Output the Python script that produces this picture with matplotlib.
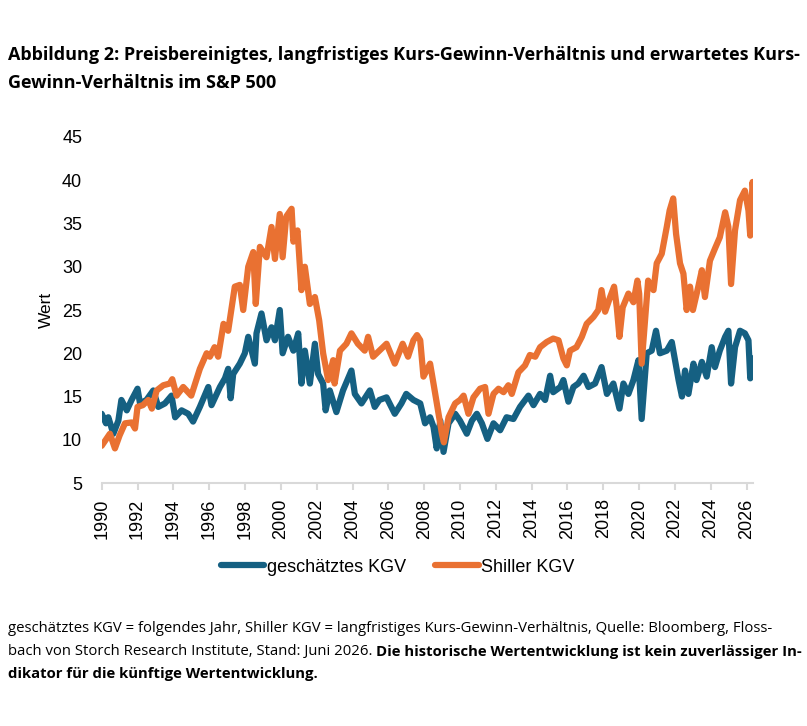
import matplotlib
matplotlib.use('Agg')
import matplotlib.pyplot as plt
from matplotlib import font_manager
import numpy as np

#%% Data (decimal years)
shiller_x = [1990.0, 1990.46, 1990.74, 1991.0, 1991.3, 1991.67, 1991.86, 1992.0, 1992.3, 1992.6,
             1992.8, 1993.07, 1993.44, 1993.8, 1993.94, 1994.18, 1994.55, 1995.0, 1995.48, 1995.86,
             1996.04, 1996.3, 1996.5, 1996.8, 1997.06, 1997.43, 1997.71, 1997.9, 1998.18, 1998.46,
             1998.6, 1998.83, 1999.2, 1999.48, 1999.67, 1999.94, 2000.1, 2000.3, 2000.6, 2000.7,
             2000.93, 2001.15, 2001.34, 2001.62, 2001.9, 2002.14, 2002.36, 2002.64, 2002.92, 2003.0,
             2003.3, 2003.66, 2003.94, 2004.3, 2004.68, 2004.87, 2005.15, 2005.5, 2005.9, 2006.36,
             2006.8, 2007.1, 2007.4, 2007.6, 2007.78, 2007.96, 2008.33, 2008.52, 2008.8, 2008.99,
             2009.1, 2009.36, 2009.73, 2010.0, 2010.2, 2010.47, 2010.75, 2011.12, 2011.4, 2011.59,
             2011.87, 2012.15, 2012.43, 2012.7, 2012.89, 2013.26, 2013.63, 2013.9, 2014.2, 2014.47,
             2014.84, 2015.2, 2015.5, 2015.77, 2015.96, 2016.14, 2016.5, 2016.8, 2017.07, 2017.45,
             2017.72, 2017.9, 2018.1, 2018.38, 2018.6, 2018.75, 2018.9, 2019.08, 2019.4, 2019.68,
             2019.9, 2020.0, 2020.14, 2020.33, 2020.5, 2020.8, 2020.98, 2021.26, 2021.54, 2021.7,
             2021.9, 2022.06, 2022.28, 2022.47, 2022.65, 2022.84, 2023.0, 2023.3, 2023.5, 2023.67,
             2023.95, 2024.23, 2024.5, 2024.8, 2024.98, 2025.13, 2025.35, 2025.63, 2025.9, 2026.1,
             2026.2, 2026.33, 2026.4]
shiller_y = [9.3, 10.7, 9.0, 10.5, 11.9, 12.0, 11.3, 13.8, 14.0, 14.6,
             13.6, 15.7, 16.3, 16.5, 17.0, 15.1, 16.1, 15.1, 18.2, 20.0,
             19.6, 20.7, 19.6, 23.4, 22.6, 27.7, 27.9, 25.0, 30.0, 31.7,
             25.7, 32.3, 31.1, 34.6, 30.9, 36.1, 31.1, 35.8, 36.7, 32.9,
             34.2, 27.3, 30.0, 25.7, 26.5, 23.8, 20.0, 16.9, 19.2, 16.5,
             20.3, 21.1, 22.3, 21.1, 20.3, 21.9, 19.6, 20.3, 21.1, 18.8,
             21.1, 19.6, 21.5, 22.1, 21.5, 17.3, 18.8, 16.5, 13.0, 10.7,
             9.7, 12.6, 14.2, 14.6, 15.1, 13.0, 14.9, 15.9, 16.1, 13.0,
             15.3, 15.9, 15.5, 16.3, 15.3, 17.8, 18.6, 19.8, 19.6, 20.7,
             21.3, 21.7, 21.5, 19.4, 18.6, 20.3, 20.7, 21.9, 23.4, 24.2,
             25.0, 27.3, 24.8, 26.5, 27.7, 25.3, 21.9, 25.3, 26.9, 25.9,
             28.4, 26.9, 18.8, 23.8, 28.4, 27.3, 30.4, 31.5, 34.6, 36.5,
             37.9, 33.8, 30.4, 29.2, 25.0, 27.7, 25.0, 27.7, 29.6, 26.5,
             30.7, 32.1, 33.4, 36.3, 34.6, 28.0, 34.2, 37.7, 38.8, 36.5,
             33.6, 39.8, 38.4]

fwd_x = [1990.0, 1990.24, 1990.37, 1990.65, 1990.93, 1991.1, 1991.4, 1991.67, 1992.0, 1992.14,
         1992.5, 1992.88, 1993.16, 1993.53, 1993.9, 1994.1, 1994.46, 1994.83, 1995.1, 1995.48,
         1995.95, 1996.13, 1996.6, 1996.88, 1997.06, 1997.2, 1997.34, 1997.71, 1997.99, 1998.18,
         1998.55, 1998.64, 1998.92, 1999.2, 1999.48, 1999.67, 1999.94, 2000.1, 2000.4, 2000.7,
         2000.97, 2001.15, 2001.34, 2001.62, 2001.9, 2002.08, 2002.36, 2002.5, 2002.73, 2003.1,
         2003.47, 2003.94, 2004.13, 2004.5, 2004.97, 2005.24, 2005.5, 2005.9, 2006.36, 2006.73,
         2007.0, 2007.4, 2007.78, 2008.05, 2008.33, 2008.52, 2008.7, 2008.9, 2009.08, 2009.36,
         2009.73, 2010.0, 2010.38, 2010.66, 2010.94, 2011.22, 2011.53, 2011.87, 2012.24, 2012.6,
         2012.98, 2013.35, 2013.82, 2014.1, 2014.47, 2014.75, 2015.03, 2015.2, 2015.6, 2015.77,
         2016.05, 2016.33, 2016.6, 2016.9, 2017.17, 2017.54, 2017.9, 2018.2, 2018.56, 2018.9,
         2019.12, 2019.4, 2019.68, 2019.96, 2020.14, 2020.42, 2020.7, 2020.94, 2021.16, 2021.54,
         2021.82, 2022.0, 2022.2, 2022.39, 2022.56, 2022.75, 2023.03, 2023.2, 2023.5, 2023.77,
         2024.05, 2024.23, 2024.5, 2024.8, 2024.98, 2025.13, 2025.35, 2025.63, 2025.9, 2026.1,
         2026.2, 2026.33, 2026.4]
fwd_y = [13.0, 11.9, 12.6, 10.7, 12.2, 14.6, 13.4, 14.6, 15.9, 14.2,
         14.6, 15.7, 13.8, 14.2, 15.1, 12.6, 13.4, 13.0, 12.1, 13.8,
         16.1, 14.0, 16.1, 17.1, 18.2, 14.8, 17.6, 18.8, 20.0, 21.9,
         18.8, 22.3, 24.6, 21.5, 23.0, 21.5, 25.0, 20.0, 21.9, 20.3,
         22.3, 16.5, 20.3, 16.5, 21.1, 17.6, 16.5, 13.4, 15.7, 13.2,
         15.7, 18.0, 15.3, 14.2, 15.7, 13.8, 14.6, 14.9, 13.0, 14.2,
         15.3, 14.6, 14.2, 11.9, 12.6, 11.5, 9.0, 12.2, 8.6, 11.9,
         13.0, 12.2, 10.7, 12.2, 13.0, 11.9, 10.1, 11.9, 11.1, 12.6,
         12.4, 13.8, 15.1, 14.0, 15.3, 14.6, 17.4, 15.5, 16.1, 16.9,
         14.4, 16.1, 16.5, 17.4, 16.1, 16.5, 18.4, 15.3, 16.5, 13.6,
         16.5, 15.3, 16.9, 19.2, 12.4, 20.0, 20.3, 22.6, 20.0, 20.3,
         21.3, 19.2, 16.9, 15.0, 18.0, 15.3, 18.8, 16.9, 19.0, 17.3,
         20.7, 18.4, 20.3, 21.9, 22.6, 16.5, 20.7, 22.6, 22.3, 21.5,
         17.1, 19.4, 19.0]

years = list(range(1990, 2027, 2))
yticks = list(range(5, 46, 5))
blue = '#156082'
orange = '#E97132'


def pick(*names):
    for n in names:
        try:
            font_manager.findfont(font_manager.FontProperties(family=n), fallback_to_default=False)
            return n
        except Exception:
            pass
    return 'DejaVu Sans'

narrow = pick('Liberation Sans Narrow', 'Open Sans')
arial = pick('Liberation Sans', 'DejaVu Sans')

#%% Plot
fig = plt.figure(figsize=(8.07, 7.26), dpi=100)
ax = fig.add_axes([0.126, 0.3347, 0.807, 0.4766])

ax.plot(fwd_x, fwd_y, color=blue, lw=4.5, solid_joinstyle='round', solid_capstyle='round',
        label='geschätztes KGV')
ax.plot(shiller_x, shiller_y, color=orange, lw=4.5, solid_joinstyle='round', solid_capstyle='round',
        label='Shiller KGV')

ax.set_xlim(1990, 2026.35)
ax.set_ylim(5, 45)
ax.set_xticks(years)
ax.set_xticklabels([str(y) for y in years], rotation=90, fontsize=13, family=arial)
ax.set_yticks(yticks)
ax.set_yticklabels([str(y) for y in yticks], fontsize=13, family=arial)
for s in ['top', 'right', 'left']:
    ax.spines[s].set_visible(False)
ax.spines['bottom'].set_color('#d9d9d9')
ax.spines['bottom'].set_linewidth(1.5)
ax.tick_params(axis='y', length=0, pad=14)
ax.tick_params(axis='x', length=5, width=1.5, color='#d9d9d9', pad=6)
ax.set_ylabel('Wert', fontsize=12.5, family=arial, labelpad=6)

leg = fig.legend(loc='center', bbox_to_anchor=(0.493, 1 - 567 / 726), ncol=2, frameon=False,
                 prop={'family': arial, 'size': 13}, handlelength=2.4, handletextpad=0.15,
                 columnspacing=1.6)
for l in leg.get_lines():
    l.set_linewidth(4.5)
    l.set_solid_capstyle('round')

#%% Texts
fig.canvas.draw()
r = fig.canvas.get_renderer()


def fit(t, width):
    w = t.get_window_extent(r).width
    t.set_fontsize(t.get_fontsize() * width / w)


t = fig.text(8 / 807, 1 - 60 / 726, 'Abbildung 2: Preisbereinigtes, langfristiges Kurs-Gewinn-Verhältnis und erwartetes Kurs-',
             fontsize=13, weight='bold', family=narrow, va='baseline')
fit(t, 789)
fs_title = t.get_fontsize()
fig.text(8 / 807, 1 - 88 / 726, 'Gewinn-Verhältnis im S&P 500', fontsize=fs_title, weight='bold',
         family=narrow, va='baseline')

t1 = fig.text(8 / 807, 1 - 632 / 726,
              'geschätztes KGV = folgendes Jahr, Shiller KGV = langfristiges Kurs-Gewinn-Verhältnis, Quelle: Bloomberg, Floss-',
              fontsize=11, family=narrow, va='baseline')
fit(t1, 763)
fs = t1.get_fontsize()
t2 = fig.text(8 / 807, 1 - 655 / 726, 'bach von Storch Research Institute, Stand: Juni 2026. ',
              fontsize=fs, family=narrow, va='baseline')
fig.canvas.draw()
ax.annotate('Die historische Wertentwicklung ist kein zuverlässiger In-', xy=(1, 0), xycoords=t2,
            va='bottom', ha='left', fontsize=fs, weight='bold', family=narrow, annotation_clip=False)
fig.text(8 / 807, 1 - 678 / 726, 'dikator für die künftige Wertentwicklung.', fontsize=fs,
         weight='bold', family=narrow, va='baseline')

plt.savefig('out.png', dpi=100)
